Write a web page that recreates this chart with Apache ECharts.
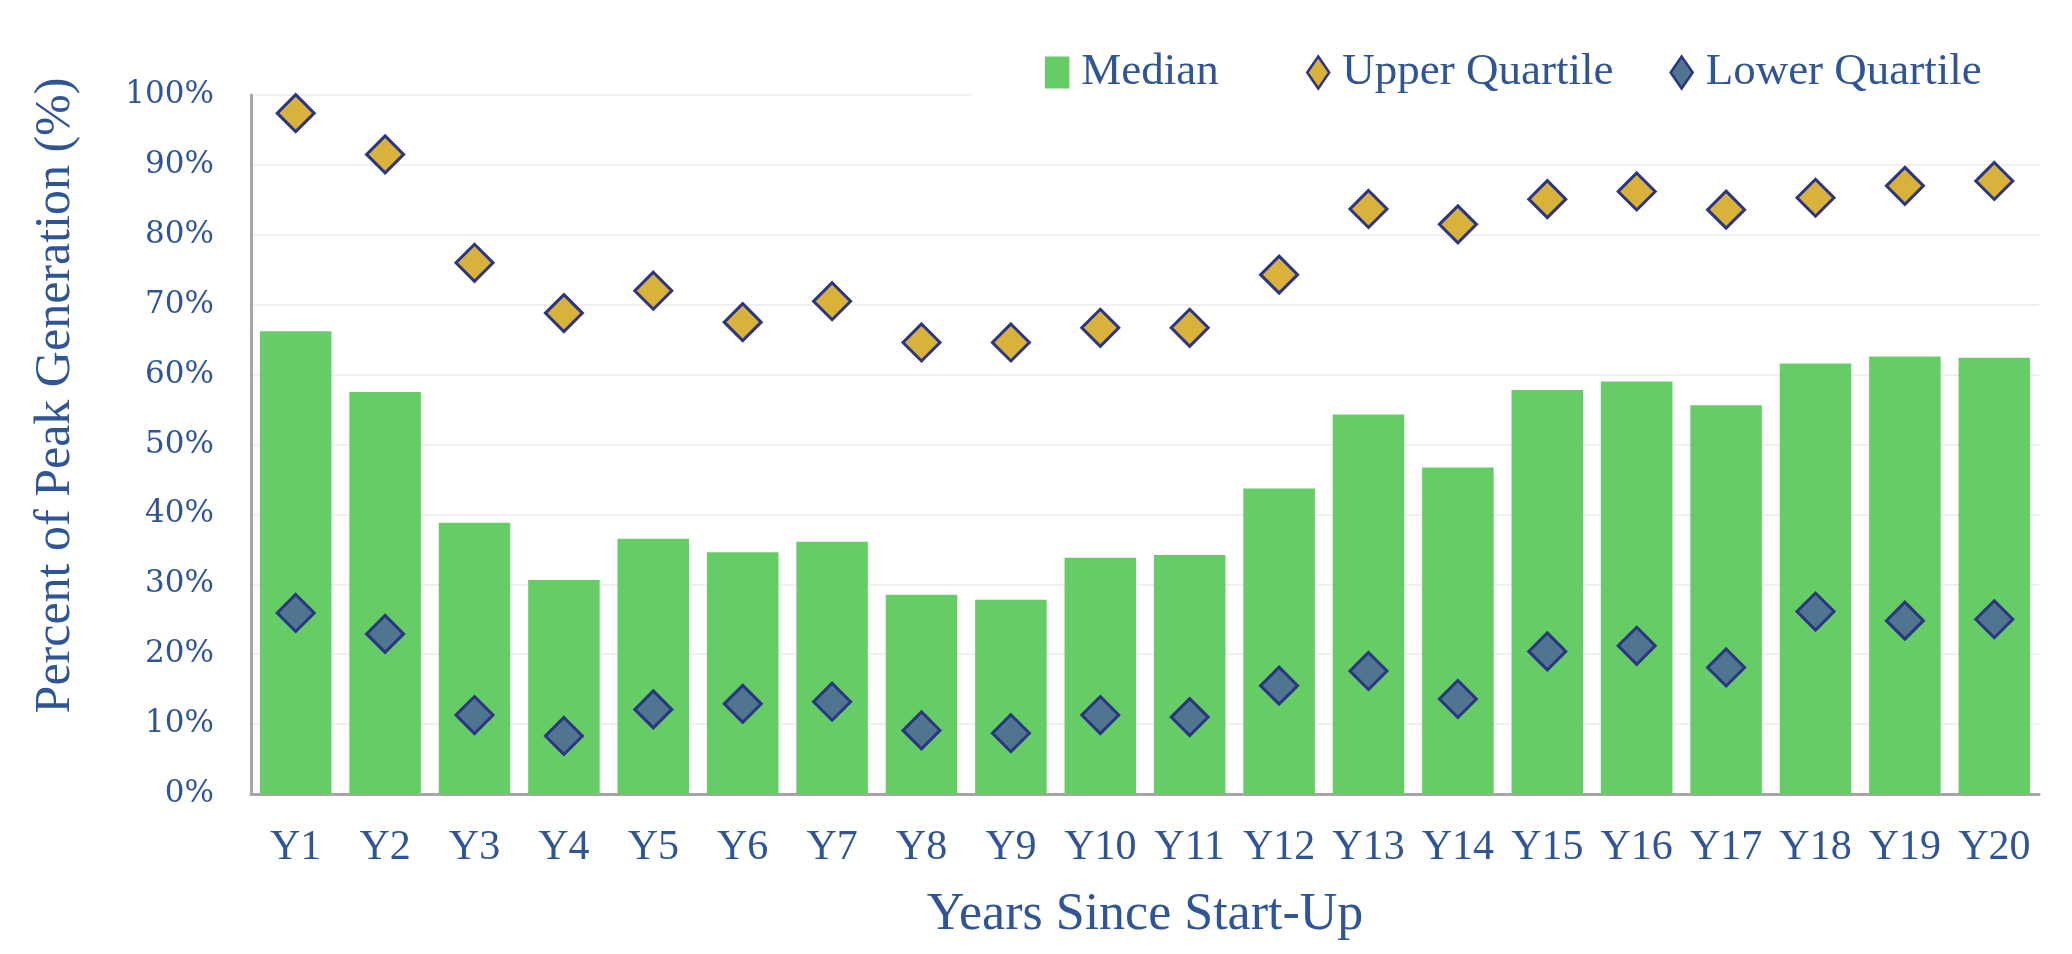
<!DOCTYPE html>
<html>
<head>
<meta charset="utf-8">
<script src="https://cdn.jsdelivr.net/npm/echarts@6/dist/echarts.min.js"></script>
<style>html,body{margin:0;padding:0;background:#fff;}#c{width:2072px;height:954px;}</style>
</head>
<body>
<div id="c"></div>
<script>
const categories = ['Y1','Y2','Y3','Y4','Y5','Y6','Y7','Y8','Y9','Y10','Y11','Y12','Y13','Y14','Y15','Y16','Y17','Y18','Y19','Y20'];
const median = [66.2, 57.5, 38.8, 30.6, 36.5, 34.6, 36.1, 28.5, 27.8, 33.8, 34.2, 43.7, 54.3, 46.7, 57.8, 59.0, 55.6, 61.6, 62.6, 62.4];
const upperQuartile = [97.4, 91.5, 76.0, 68.8, 72.0, 67.5, 70.5, 64.6, 64.6, 66.7, 66.7, 74.3, 83.7, 81.5, 85.1, 86.2, 83.6, 85.3, 87.0, 87.7];
const lowerQuartile = [25.9, 22.9, 11.3, 8.3, 12.1, 12.9, 13.2, 9.1, 8.7, 11.3, 11.0, 15.5, 17.6, 13.6, 20.4, 21.2, 18.1, 26.1, 24.8, 25.0];
const yTicks = {min: 0, max: 100, interval: 10};

const textColor = '#2F5597';
const serif = '"Liberation Serif", "Times New Roman", serif';
const legendBase = {
  top: 42,
  backgroundColor: '#fff',
  itemWidth: 38, itemHeight: 32, itemGap: 56,
  textStyle: {fontFamily: serif, fontSize: 45, color: textColor}
};
const diamondIcon = 'path://M11,0L22,16L11,32L0,16Z';
const chart = echarts.init(document.getElementById('c'));
chart.setOption({
  animation: false,
  backgroundColor: '#fff',
  grid: {left: 251, right: 33, top: 95, bottom: 160, containLabel: false},
  legend: [
    Object.assign({}, legendBase, {
      left: 971, padding: [8, 120, 12, 74],
      data: [{name: 'Median', icon: 'path://M0,0h16v21h-16z', itemStyle: {color: '#66CC66', borderWidth: 0}}]
    }),
    Object.assign({}, legendBase, {
      left: 1306, padding: [8, 80, 12, 0],
      data: [
        {name: 'Upper Quartile', icon: diamondIcon, itemStyle: {color: '#D8B23A', borderColor: '#2B3580', borderWidth: 2.5}},
        {name: 'Lower Quartile', icon: diamondIcon, itemStyle: {color: '#4F7590', borderColor: '#2B3580', borderWidth: 2.5}}
      ]
    })
  ],
  xAxis: {
    type: 'category', data: categories,
    axisLine: {lineStyle: {color: '#A6A6A6', width: 3}},
    axisTick: {show: false},
    axisLabel: {fontFamily: serif, fontSize: 42, color: textColor, margin: 33, interval: 0},
    name: 'Years Since Start-Up', nameLocation: 'middle', nameGap: 95,
    nameTextStyle: {fontFamily: serif, fontSize: 52, color: textColor}
  },
  yAxis: {
    type: 'value', min: yTicks.min, max: yTicks.max, interval: yTicks.interval,
    axisLine: {show: true, lineStyle: {color: '#A6A6A6', width: 3}},
    axisTick: {show: false},
    splitLine: {lineStyle: {color: '#F0F0F0', width: 2}},
    axisLabel: {fontFamily: '"DejaVu Serif", serif', fontSize: 31, color: textColor, margin: 37, formatter: '{value}%'},
    name: 'Percent of Peak Generation (%)', nameLocation: 'middle', nameGap: 170,
    nameTextStyle: {fontFamily: serif, fontSize: 50, color: textColor, padding: [0, 0, 0, 98]}
  },
  series: [
    {name: 'Median', type: 'bar', data: median, barCategoryGap: '20%', itemStyle: {color: '#66CC66'}},
    {name: 'Upper Quartile', type: 'scatter', data: upperQuartile, symbol: 'diamond', symbolSize: 37,
     itemStyle: {color: '#D8B23A', borderColor: '#2B3580', borderWidth: 3, opacity: 1}, z: 5},
    {name: 'Lower Quartile', type: 'scatter', data: lowerQuartile, symbol: 'diamond', symbolSize: 37,
     itemStyle: {color: '#4F7590', borderColor: '#2B3580', borderWidth: 3, opacity: 1}, z: 5}
  ]
});
</script>
</body>
</html>
